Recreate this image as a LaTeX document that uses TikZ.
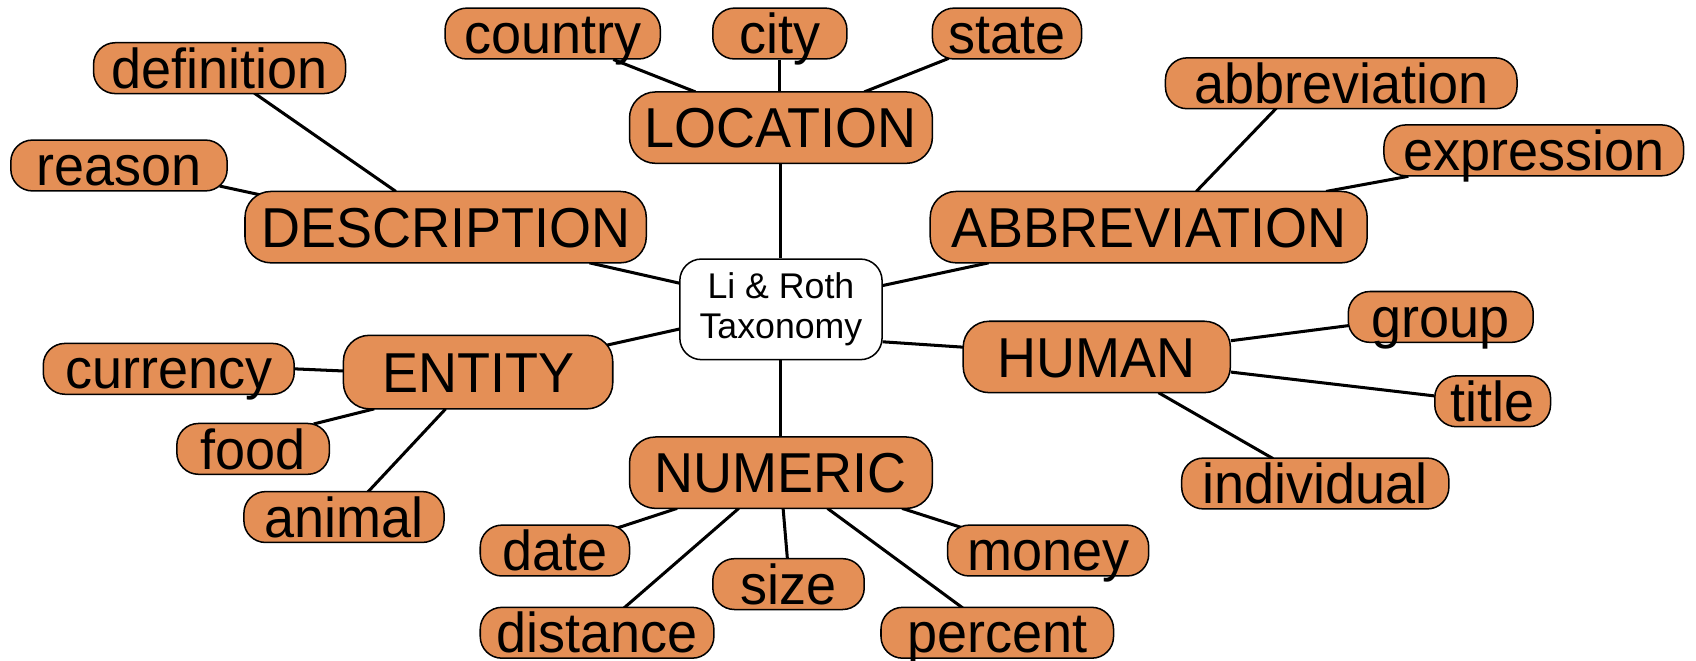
\documentclass[tikz,border=0pt]{standalone}
\usepackage{fontspec}
\setmainfont{Liberation Sans}
\newfontfamily\labelfont[FakeStretch=0.96]{Liberation Sans}
\usetikzlibrary{calc,backgrounds}
\definecolor{boxorange}{HTML}{E48F56}
\tikzset{
  x=0.5pt, y=-0.5pt,
  leaf/.style={draw=black, line width=0.7pt, fill=boxorange, rounded corners=10pt,
    minimum height=23.5pt, inner sep=0pt, text height=18.6pt, text depth=0pt,
    font=\labelfont\fontsize{26}{30}\selectfont},
  category/.style={leaf, minimum height=33pt, rounded corners=12pt},
  root/.style={draw=black, line width=0.7pt, fill=white, rounded corners=10pt,
    minimum width=93.5pt, minimum height=46.5pt, inner sep=0pt, align=center,
    font=\fontsize{16.5}{18.5}\selectfont},
  link/.style={draw=black, line width=1.4pt},
}
\newcommand\tielink[4]{\draw[link] ($(#1)+(#2)$) -- ($(#3)+(#4)$);}
\begin{document}
\begin{tikzpicture}
\useasboundingbox (0,0) rectangle (1568,611);

% central node
\node[root] (root) at (722,286) {Li \& Roth\\Taxonomy};

% categories
\node[category, minimum width=140pt]   (loc)  at (722,118)  {LOCATION};
\node[category, minimum width=185.5pt] (desc) at (412,210)  {DESCRIPTION};
\node[category, minimum width=202pt]   (abbr) at (1062,210) {ABBREVIATION};
\node[category, minimum width=124.5pt, minimum height=34pt] (ent) at (442,344) {ENTITY};
\node[category, minimum width=123.5pt] (hum)  at (1014,330) {HUMAN};
\node[category, minimum width=140pt]   (num)  at (722,437)  {NUMERIC};

% LOCATION leaves
\node[leaf, minimum width=99.5pt] (country) at (511,31) {country};
\node[leaf, minimum width=62pt]   (city)    at (721,31) {city};
\node[leaf, minimum width=69pt]   (state)   at (931,31) {state};

% DESCRIPTION leaves
\node[leaf, minimum width=116.5pt] (definition) at (203,63)  {definition};
\node[leaf, minimum width=100pt]   (reason)     at (110,153) {reason};

% ABBREVIATION leaves
\node[leaf, minimum width=162.5pt] (abbrev) at (1240,77)  {abbreviation};
\node[leaf, minimum width=138.5pt] (expr)   at (1418,139) {expression};

% ENTITY leaves
\node[leaf, minimum width=116pt]  (currency) at (156,341) {currency};
\node[leaf, minimum width=70.5pt] (food)     at (234,415) {food};
\node[leaf, minimum width=92.5pt] (animal)   at (318,478) {animal};

% HUMAN leaves
\node[leaf, minimum width=85.5pt]  (group)      at (1332,293) {group};
\node[leaf, minimum width=53.5pt]  (title)      at (1380,371) {title};
\node[leaf, minimum width=123.5pt] (individual) at (1216,447) {individual};

% NUMERIC leaves
\node[leaf, minimum width=69pt]    (date)     at (513,509) {date};
\node[leaf, minimum width=108pt]   (distance) at (552,585) {distance};
\node[leaf, minimum width=70pt]    (size)     at (729,540) {size};
\node[leaf, minimum width=93pt]    (money)    at (969,509) {money};
\node[leaf, minimum width=107.5pt] (percent)  at (922,585) {percent};

\begin{scope}[on background layer]
  % root to categories
  \draw[link] (loc.south) -- (root.north);
  \draw[link] (root.south) -- (num.north);
  \tielink{desc}{133,33}{root}{-93,-24}
  \tielink{abbr}{-148,33}{root}{94,-22}
  \tielink{ent}{115,-24}{root}{-93,18}
  \tielink{root}{94,30}{hum}{-123,-9}

  % LOCATION
  \tielink{country}{56,24}{loc}{-79,-33}
  \draw[link] (city.south) -- (city.south |- loc.north);
  \tielink{state}{-54,23}{loc}{77,-33}

  % DESCRIPTION
  \tielink{definition}{32,23}{desc}{-46,-33}
  \tielink{reason}{93,19}{desc}{-172,-30}

  % ABBREVIATION
  \tielink{abbrev}{-60,23}{abbr}{44,-33}
  \tielink{expr}{-116,24}{abbr}{164,-33}

  % ENTITY
  \tielink{currency}{116,0}{ent}{-124,-1}
  \tielink{food}{56,-23}{ent}{-96,34}
  \tielink{animal}{22,-23}{ent}{-30,34}

  % HUMAN
  \tielink{hum}{124,-15}{group}{-85,8}
  \tielink{hum}{124,14}{title}{-54,-5}
  \tielink{hum}{57,33}{individual}{-39,-23}

  % NUMERIC
  \tielink{num}{-96,33}{date}{55,-20}
  \tielink{num}{-39,33}{distance}{25,-23}
  \tielink{num}{2,33}{size}{-1,-23}
  \tielink{num}{112,33}{money}{-76,-20}
  \tielink{num}{43,33}{percent}{-32,-23}
\end{scope}
\end{tikzpicture}
\end{document}
